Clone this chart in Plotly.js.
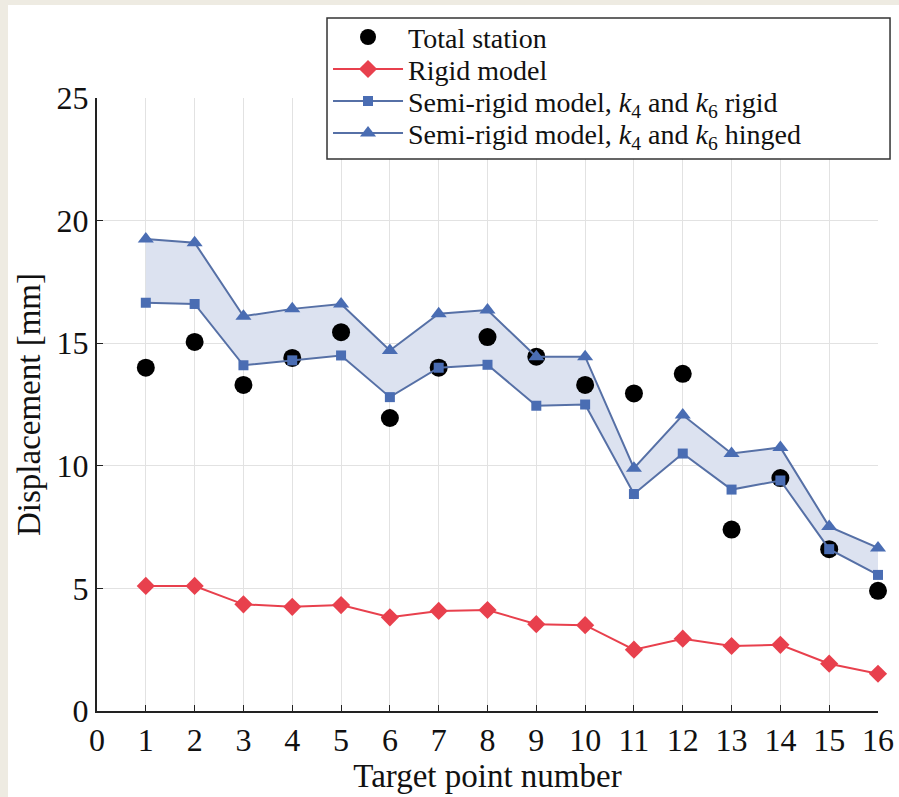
<!DOCTYPE html>
<html>
<head>
<meta charset="utf-8">
<script src="https://cdn.plot.ly/plotly-3.0.1.min.js"></script>
<style>
  html, body { margin: 0; padding: 0; background: #eeebe2; }
  #bg { position: absolute; left: 8px; top: 5px; width: 891px; height: 792px; background: #ffffff; }
  #chart { position: absolute; left: 0; top: 0; width: 899px; height: 797px; }
</style>
</head>
<body>
<div id="bg"></div>
<div id="chart"></div>
<script>
const points = [1, 2, 3, 4, 5, 6, 7, 8, 9, 10, 11, 12, 13, 14, 15, 16];
const totalStation = [14.0, 15.05, 13.3, 14.4, 15.45, 11.95, 14.0, 15.25, 14.45, 13.3, 12.95, 13.75, 7.4, 9.5, 6.6, 4.9];
const rigidModel = [5.1, 5.1, 4.35, 4.25, 4.32, 3.82, 4.08, 4.12, 3.54, 3.5, 2.5, 2.95, 2.65, 2.7, 1.93, 1.52];
const semiRigidRigid = [16.65, 16.6, 14.1, 14.3, 14.5, 12.8, 14.0, 14.12, 12.45, 12.5, 8.85, 10.5, 9.03, 9.4, 6.6, 5.55];
const semiRigidHinged = [19.25, 19.1, 16.1, 16.4, 16.6, 14.7, 16.2, 16.35, 14.45, 14.45, 9.9, 12.07, 10.5, 10.75, 7.52, 6.65];
const xTicks = [0, 1, 2, 3, 4, 5, 6, 7, 8, 9, 10, 11, 12, 13, 14, 15, 16];
const yTicks = [0, 5, 10, 15, 20, 25];
const seriesNames = [
  'Total station',
  'Rigid model',
  'Semi-rigid model, <i>k</i><sub>4</sub> and <i>k</i><sub>6</sub> rigid',
  'Semi-rigid model, <i>k</i><sub>4</sub> and <i>k</i><sub>6</sub> hinged'
];

const blue = '#4a6db3';
const blueLine = '#5670a6';
const red = '#e8404d';
const serif = 'Times New Roman';
const ink = '#111111';

const traces = [
  {
    x: points, y: semiRigidRigid, mode: 'lines', type: 'scatter', showlegend: false,
    line: { color: 'rgba(0,0,0,0)', width: 0 }, hoverinfo: 'skip'
  },
  {
    x: points, y: semiRigidHinged, mode: 'lines', type: 'scatter', showlegend: false,
    fill: 'tonexty', fillcolor: '#dce2f0',
    line: { color: 'rgba(0,0,0,0)', width: 0 }, hoverinfo: 'skip'
  },
  {
    x: points, y: totalStation, name: seriesNames[0], mode: 'markers', type: 'scatter',
    marker: { color: '#000000', size: 18, symbol: 'circle' }, cliponaxis: false
  },
  {
    x: points, y: rigidModel, name: seriesNames[1], mode: 'lines+markers', type: 'scatter',
    line: { color: red, width: 2 },
    marker: { color: red, size: 14, symbol: 'diamond' }, cliponaxis: false
  },
  {
    x: points, y: semiRigidRigid, name: seriesNames[2],
    mode: 'lines+markers', type: 'scatter',
    line: { color: blueLine, width: 2 },
    marker: { color: blue, size: 10, symbol: 'square' }, cliponaxis: false
  },
  {
    x: points, y: semiRigidHinged, name: seriesNames[3],
    mode: 'lines+markers', type: 'scatter',
    line: { color: blueLine, width: 2 },
    marker: { color: blue, size: 14, symbol: 'triangle-up' }, cliponaxis: false
  }
];

const layout = {
  width: 899, height: 797,
  paper_bgcolor: 'rgba(0,0,0,0)', plot_bgcolor: '#ffffff',
  margin: { l: 97, r: 21, t: 98, b: 86, autoexpand: false },
  font: { family: serif, color: ink, size: 30 },
  showlegend: true,
  legend: {
    x: 0.2958, y: 1.1468, xanchor: 'left', yanchor: 'top',
    traceorder: 'normal',
    bgcolor: 'rgba(0,0,0,0)', borderwidth: 0,
    font: { family: serif, size: 28, color: ink },
    itemwidth: 70, tracegroupgap: 0
  },
  shapes: [{
    type: 'rect', xref: 'paper', yref: 'paper', layer: 'above',
    x0: 0.2945, x1: 1.0154, y0: 0.9005, y1: 1.1305,
    fillcolor: '#ffffff', line: { color: '#333333', width: 1.5 }
  }],
  xaxis: {
    range: [0, 16], tickvals: xTicks, ticktext: xTicks.map(String),
    showgrid: true, gridcolor: '#e2e2e2', gridwidth: 1,
    showline: true, linecolor: '#222222', linewidth: 2,
    ticks: 'inside', ticklen: 6, tickcolor: '#222222', tickwidth: 1,
    zeroline: false, tickfont: { family: serif, size: 32, color: ink },
    title: { text: 'Target point number', font: { family: serif, size: 33, color: ink }, standoff: 4 }
  },
  yaxis: {
    range: [0, 25], tickvals: yTicks, ticktext: yTicks.map(String),
    showgrid: true, gridcolor: '#e2e2e2', gridwidth: 1,
    showline: true, linecolor: '#222222', linewidth: 2,
    ticks: 'inside', ticklen: 6, tickcolor: '#222222', tickwidth: 1,
    zeroline: false, tickfont: { family: serif, size: 32, color: ink },
    title: { text: 'Displacement [mm]', font: { family: serif, size: 33, color: ink }, standoff: 6 }
  }
};

Plotly.newPlot('chart', traces, layout, { displayModeBar: false, staticPlot: true }).then(function (gd) {
  // tighten legend rows to the reference's spacing
  const centres = [37, 69, 101, 133];
  const items = gd.querySelectorAll('.legend .traces');
  items.forEach(function (g, i) {
    if (i >= centres.length) return;
    const tr = g.getAttribute('transform') || '';
    const m = /translate\(\s*([-\d.e]+)[ ,]+([-\d.e]+)\s*\)/.exec(tr);
    if (!m) return;
    const ctm = g.getCTM();
    const tx = parseFloat(m[1]);
    const ty = parseFloat(m[2]);
    g.setAttribute('transform', 'translate(' + tx + ',' + (ty + centres[i] - ctm.f) + ')');
  });
});
</script>
</body>
</html>
